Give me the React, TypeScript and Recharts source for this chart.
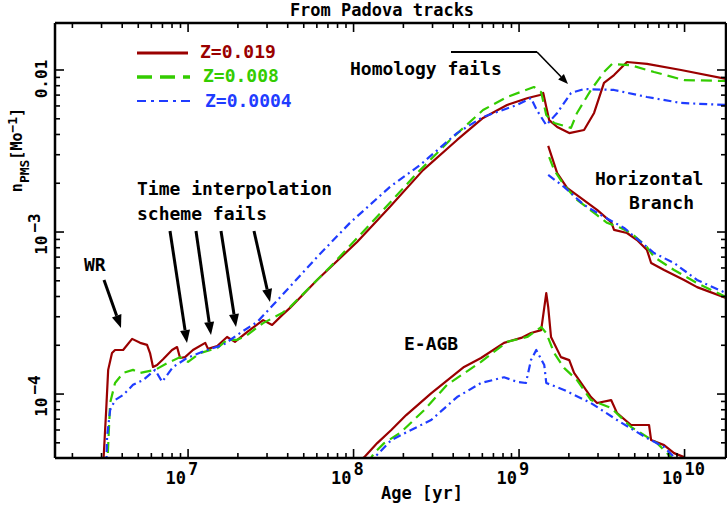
import React from "react";
import { LineChart, Line, XAxis, YAxis } from "recharts";

// [age (yr), n_PMS (1/Msun)]
const z019Main = [
  [3.06e6, 3.4e-5], [3.2e6, 7.96e-5], [3.29e6, 1.41e-4], [3.47e6, 1.79e-4], [3.62e6, 1.87e-4],
  [4.05e6, 1.87e-4], [4.59e6, 2.19e-4], [5.13e6, 2.07e-4], [5.65e6, 2.01e-4], [5.89e6, 1.79e-4],
  [6.14e6, 1.47e-4], [6.5e6, 1.51e-4], [7.06e6, 1.64e-4], [8.0e6, 1.87e-4], [8.58e6, 1.95e-4],
  [8.95e6, 1.67e-4], [9.59e6, 1.69e-4], [1.07e7, 1.87e-4], [1.27e7, 2.07e-4], [1.32e7, 1.9e-4],
  [1.5e7, 1.98e-4], [1.72e7, 2.25e-4], [1.92e7, 2.1e-4], [2.27e7, 2.41e-4], [2.84e7, 2.86e-4],
  [3.22e7, 2.67e-4], [3.7e7, 3.07e-4], [4.13e7, 3.4e-4], [6.02e7, 5.06e-4], [1.05e8, 8.68e-4],
  [1.66e8, 1.43e-3], [2.63e8, 2.41e-3], [4.22e8, 3.7e-3], [6.06e8, 5.06e-3], [8.46e8, 6.08e-3],
  [1.13e9, 6.72e-3], [1.34e9, 7.01e-3], [1.4e9, 7.21e-3], [1.46e9, 5.91e-3], [1.52e9, 4.91e-3],
  [1.7e9, 4.45e-3], [2.01e9, 4.08e-3], [2.47e9, 4.26e-3], [2.84e9, 5.43e-3], [3.26e9, 8.32e-3],
  [3.75e9, 9.31e-3], [4.49e9, 1.12e-2], [5.93e9, 1.09e-2], [9.52e9, 1.0e-2], [1.78e10, 8.8e-3],
];
const z008Main = [
  [3.24e6, 3.4e-5], [3.38e6, 8.8e-5], [3.62e6, 1.17e-4], [4.05e6, 1.35e-4], [4.65e6, 1.41e-4],
  [5.13e6, 1.35e-4], [5.5e6, 1.37e-4], [6.32e6, 1.41e-4], [7.47e6, 1.55e-4], [8.95e6, 1.69e-4],
  [1.0e7, 1.58e-4], [1.18e7, 1.79e-4], [1.5e7, 1.92e-4], [1.72e7, 2.16e-4], [1.98e7, 2.16e-4],
  [2.27e7, 2.31e-4], [2.84e7, 2.74e-4], [3.7e7, 3.16e-4], [4.13e7, 3.44e-4], [7.21e7, 6.08e-4],
  [1.21e8, 1.07e-3], [2.42e8, 2.31e-3], [3.83e8, 3.7e-3], [6.06e8, 5.66e-3], [8.46e8, 6.81e-3],
  [1.23e9, 7.85e-3], [1.36e9, 7.31e-3], [1.46e9, 5.27e-3], [1.63e9, 4.71e-3], [2.06e9, 4.39e-3],
  [2.24e9, 5.43e-3], [2.72e9, 7.53e-3], [3.26e9, 9.72e-3], [3.65e9, 1.09e-2], [4.75e9, 1.07e-2],
  [6.54e9, 9.72e-3], [9.93e9, 8.67e-3], [1.78e10, 8.55e-3],
];
const z0004Main = [
  [3.2e6, 3.4e-5], [3.24e6, 5.43e-5], [3.38e6, 7.96e-5], [3.62e6, 9.18e-5], [4.05e6, 9.86e-5],
  [4.65e6, 1.14e-4], [5.35e6, 1.22e-4], [6.32e6, 1.41e-4], [6.97e6, 1.19e-4], [8.12e6, 1.47e-4],
  [9.86e6, 1.67e-4], [1.3e7, 1.87e-4], [1.63e7, 2.01e-4], [2.06e7, 2.38e-4], [2.61e7, 2.78e-4],
  [3.26e7, 3.54e-4], [6.02e7, 7.01e-4], [9.52e7, 1.14e-3], [1.66e8, 1.9e-3], [2.52e8, 2.59e-3],
  [4.22e8, 4.08e-3], [6.06e8, 5.13e-3], [9.72e8, 6.08e-3], [1.18e9, 6.72e-3], [1.28e9, 5.66e-3],
  [1.46e9, 4.57e-3], [1.7e9, 5.43e-3], [2.06e9, 7.21e-3], [2.47e9, 7.63e-3], [3.75e9, 7.53e-3],
  [5.93e9, 6.81e-3], [9.52e9, 6.26e-3], [1.78e10, 6.08e-3],
];

const z019HB = [
  [1.5e9, 3.4e-3], [1.7e9, 2.31e-3], [1.95e9, 1.87e-3], [2.37e9, 1.62e-3], [2.96e9, 1.37e-3],
  [3.6e9, 1.15e-3], [3.75e9, 1.03e-3], [4.49e9, 9.86e-4], [5.16e9, 8.93e-4], [5.93e9, 7.74e-4],
  [6.28e9, 6.44e-4], [7.52e9, 5.83e-4], [9.93e9, 5.06e-4], [1.19e10, 4.57e-4], [1.78e10, 3.92e-4],
];
const z008HB = [
  [1.52e9, 2.9e-3], [1.63e9, 2.41e-3], [1.87e9, 1.95e-3], [2.24e9, 1.58e-3], [2.96e9, 1.27e-3],
  [3.4e9, 1.14e-3], [4.13e9, 1.06e-3], [4.75e9, 9.86e-4], [5.93e9, 8.08e-4], [6.54e9, 7.01e-4],
  [8.64e9, 5.83e-4], [1.19e10, 4.84e-4], [1.78e10, 3.97e-4],
];
const z0004HB = [
  [1.5e9, 2.25e-3], [1.87e9, 1.9e-3], [2.47e9, 1.47e-3], [3.26e9, 1.24e-3], [4.31e9, 1.06e-3],
  [5.93e9, 8.08e-4], [6.54e9, 7.42e-4], [8.64e9, 6.44e-4], [1.19e10, 5.06e-4], [1.78e10, 4.2e-4],
];

const z019EAGB = [
  [1.05e8, 3.7e-5], [1.16e8, 4.08e-5], [1.39e8, 4.98e-5], [1.69e8, 6.0e-5], [2.08e8, 7.42e-5],
  [2.94e8, 1.01e-4], [4.65e8, 1.47e-4], [5.89e8, 1.67e-4], [8.11e8, 2.07e-4], [1.03e9, 2.22e-4],
  [1.18e9, 2.38e-4], [1.36e9, 2.48e-4], [1.46e9, 4.2e-4], [1.5e9, 3.44e-4], [1.56e9, 2.25e-4],
  [1.79e9, 1.69e-4], [2.01e9, 1.62e-4], [2.15e9, 1.35e-4], [2.72e9, 9.58e-5], [2.96e9, 8.8e-5],
  [3.6e9, 9.18e-5], [3.91e9, 7.63e-5], [4.75e9, 6.44e-5], [6.1e9, 6.44e-5], [6.28e9, 5.2e-5],
  [7.52e9, 4.84e-5], [8.64e9, 4.32e-5], [9.93e9, 4.08e-5], [1.0e10, 3.4e-5],
];
const z008EAGB = [
  [1.21e8, 3.7e-5], [1.33e8, 4.32e-5], [1.53e8, 4.98e-5], [1.94e8, 5.83e-5], [2.67e8, 7.96e-5],
  [3.67e8, 1.14e-4], [5.89e8, 1.58e-4], [8.46e8, 2.1e-4], [1.12e9, 2.25e-4], [1.36e9, 2.59e-4],
  [1.46e9, 2.38e-4], [1.63e9, 1.79e-4], [1.87e9, 1.45e-4], [2.24e9, 1.22e-4], [2.72e9, 9.18e-5],
  [3.6e9, 8.2e-5], [4.75e9, 6.26e-5], [6.82e9, 4.98e-5], [8.28e9, 4.08e-5], [8.64e9, 3.4e-5],
];
const z0004EAGB = [
  [1.27e8, 3.6e-5], [1.33e8, 4.03e-5], [1.69e8, 5.2e-5], [2.1e8, 5.83e-5], [2.94e8, 6.91e-5],
  [4.22e8, 9.58e-5], [5.89e8, 1.17e-4], [8.11e8, 1.27e-4], [9.72e8, 1.19e-4], [1.1e9, 1.17e-4],
  [1.18e9, 1.62e-4], [1.27e9, 1.87e-4], [1.42e9, 1.51e-4], [1.46e9, 1.17e-4], [1.87e9, 1.06e-4],
  [2.72e9, 8.8e-5], [3.91e9, 6.91e-5], [5.93e9, 5.35e-5], [7.52e9, 4.71e-5], [8.64e9, 4.08e-5],
  [8.9e9, 3.5e-5],
];

const seriesNames = ["Z=0.019", "Z=0.008", "Z=0.0004"];
const xMajor = [1e7, 1e8, 1e9, 1e10];
const xMajorExp = ["7", "8", "9", "10"];
const yMajor = [1e-4, 1e-3, 1e-2];
const yMajorLabels = ["10^\u22124", "10^\u22123", "0.01"];

const X_DOMAIN = [1.57e6, 1.78e10];
const Y_DOMAIN = [4.03e-5, 1.95e-2];

const RED = "#9a0000";
const GREEN = "#33cc00";
const BLUE = "#1f3cff";
const FONT = "'DejaVu Sans Mono', monospace";

const styles = [
  { color: RED, dash: undefined, width: 2.2 },
  { color: GREEN, dash: "11 6", width: 2.2 },
  { color: BLUE, dash: "8 4 2 4", width: 2.2 },
];

const toPts = (arr) => arr.map(([age, n]) => ({ age, n }));

const groups = [
  [z019Main, z019HB, z019EAGB],
  [z008Main, z008HB, z008EAGB],
  [z0004Main, z0004HB, z0004EAGB],
];

function logTicks(lo, hi) {
  const out = [];
  for (let d = Math.floor(Math.log10(lo)); d <= Math.ceil(Math.log10(hi)); d++) {
    for (let m = 1; m <= 9; m++) {
      const v = Number((m * Math.pow(10, d)).toPrecision(6));
      if (v >= lo && v <= hi) out.push(v);
    }
  }
  return out;
}
const xTicks = logTicks(X_DOMAIN[0], X_DOMAIN[1]);
const yTicks = logTicks(Y_DOMAIN[0], Y_DOMAIN[1]);

const isMajor = (v) => Math.abs(Math.log10(v) - Math.round(Math.log10(v))) < 1e-9;

function BottomTick({ x, y, payload }) {
  const v = payload.value;
  const major = isMajor(v);
  const i = xMajor.findIndex((m) => Math.abs(m - v) / m < 1e-6);
  return (
    <g>
      <line x1={x} x2={x} y1={y} y2={y - (major ? 9 : 5)} stroke="#000" strokeWidth={1.6} />
      {i >= 0 && (
        <text fontFamily={FONT} fontSize={17} fontWeight="bold" fill="#000">
          <tspan x={x - 2} y={y + 26} textAnchor="end">10</tspan>
          <tspan x={x} y={y + 17}>{xMajorExp[i]}</tspan>
        </text>
      )}
    </g>
  );
}

function TopTick({ x, y, payload }) {
  const major = isMajor(payload.value);
  return <line x1={x} x2={x} y1={y} y2={y + (major ? 9 : 5)} stroke="#000" strokeWidth={1.6} />;
}

function LeftTick({ x, y, payload }) {
  const v = payload.value;
  const major = isMajor(v);
  const i = yMajor.findIndex((m) => Math.abs(m - v) / m < 1e-6);
  let label = null;
  if (i >= 0) {
    const parts = yMajorLabels[i].split("^");
    const off = parts.length === 1 ? 9 : 2;
    label = (
      <g transform={`translate(${x - 8},${y + off}) rotate(-90)`}>
        <text x={0} y={0} textAnchor="middle" fontFamily={FONT} fontSize={16} fontWeight="bold" fill="#000">
          {parts[0]}
          {parts[1] && <tspan dx={3} dy={-7}>{parts[1]}</tspan>}
        </text>
      </g>
    );
  }
  return (
    <g>
      <line x1={x} x2={x + (major ? 9 : 5)} y1={y} y2={y} stroke="#000" strokeWidth={1.6} />
      {label}
    </g>
  );
}

function RightTick({ x, y, payload }) {
  const major = isMajor(payload.value);
  return <line x1={x} x2={x - (major ? 9 : 5)} y1={y} y2={y} stroke="#000" strokeWidth={1.6} />;
}

function Arrow({ x1, y1, x2, y2, w = 3, head = 13, hw = 5 }) {
  const a = Math.atan2(y2 - y1, x2 - x1);
  const bx = x2 - head * Math.cos(a);
  const by = y2 - head * Math.sin(a);
  const px = -Math.sin(a) * hw;
  const py = Math.cos(a) * hw;
  return (
    <g>
      <line x1={x1} y1={y1} x2={bx} y2={by} stroke="#000" strokeWidth={w} />
      <polygon points={`${x2},${y2} ${bx + px},${by + py} ${bx - px},${by - py}`} fill="#000" />
    </g>
  );
}

const textStyle = { fontFamily: FONT, fontSize: 18, fontWeight: "bold", fill: "#000" };

export default function App() {
  return (
    <div style={{ position: "absolute", left: 0, top: 0, width: 727, height: 506, background: "#fff" }}>
      <LineChart width={727} height={506} margin={{ top: 0, right: 0, bottom: 0, left: 0 }}>
        <XAxis
          xAxisId="b" orientation="bottom" type="number" dataKey="age" scale="log"
          domain={X_DOMAIN} allowDataOverflow ticks={xTicks} interval={0} height={48}
          tickSize={0} tickMargin={0} tickLine={false}
          axisLine={{ stroke: "#000", strokeWidth: 2.5 }} tick={<BottomTick />}
        />
        <XAxis
          xAxisId="t" orientation="top" type="number" dataKey="age" scale="log"
          domain={X_DOMAIN} allowDataOverflow ticks={xTicks} interval={0} height={23}
          tickSize={0} tickMargin={0} tickLine={false}
          axisLine={{ stroke: "#000", strokeWidth: 2.5 }} tick={<TopTick />}
        />
        <YAxis
          yAxisId="l" orientation="left" type="number" scale="log"
          domain={Y_DOMAIN} allowDataOverflow ticks={yTicks} interval={0} width={55}
          tickSize={0} tickMargin={0} tickLine={false}
          axisLine={{ stroke: "#000", strokeWidth: 2.5 }} tick={<LeftTick />}
        />
        <YAxis
          yAxisId="r" orientation="right" type="number" scale="log"
          domain={Y_DOMAIN} allowDataOverflow ticks={yTicks} interval={0} width={1}
          tickSize={0} tickMargin={0} tickLine={false}
          axisLine={{ stroke: "#000", strokeWidth: 2.5 }} tick={<RightTick />}
        />
        {groups.map((g, gi) =>
          g.map((arr, bi) => (
            <Line
              key={`${gi}-${bi}`}
              xAxisId="b" yAxisId="l"
              data={toPts(arr)} dataKey="n" type="linear" dot={false}
              stroke={styles[gi].color} strokeWidth={styles[gi].width}
              strokeDasharray={styles[gi].dash} strokeLinejoin="round"
              isAnimationActive={false}
            />
          ))
        )}

        {/* title and axis labels */}
        <text x={382} y={16} textAnchor="middle" {...textStyle} fontSize={17}>From Padova tracks</text>
        <text x={422} y={499} textAnchor="middle" {...textStyle} fontSize={17}>Age [yr]</text>
        <g transform="translate(22,150) rotate(-90)">
          <text x={0} y={0} textAnchor="middle" fontFamily={FONT} fontSize={15} fontWeight="bold" fill="#000">
            n<tspan dy={7} fontSize={13}>PMS</tspan>
            <tspan dy={-7}>[Mo</tspan>
            <tspan dy={-5} fontSize={13}>{"\u22121"}</tspan>
            <tspan dy={5}>]</tspan>
          </text>
        </g>

        {/* legend */}
        <line x1={137} x2={188} y1={53} y2={53} stroke={RED} strokeWidth={3} />
        <line x1={137} x2={190} y1={77} y2={77} stroke={GREEN} strokeWidth={3.5} strokeDasharray="15 8" />
        <line x1={137} x2={190} y1={101} y2={101} stroke={BLUE} strokeWidth={2.2} strokeDasharray="9 5 3 5" />
        <text x={200} y={58} {...textStyle} fill={RED}>{seriesNames[0]}</text>
        <text x={203} y={82} {...textStyle} fill={GREEN}>{seriesNames[1]}</text>
        <text x={205} y={107} {...textStyle} fill={BLUE}>{seriesNames[2]}</text>

        {/* annotations */}
        <text x={350} y={75} {...textStyle}>Homology fails</text>
        <line x1={451} x2={537} y1={52} y2={52} stroke="#000" strokeWidth={2} />
        <Arrow x1={537} y1={52} x2={568} y2={84} w={1.6} head={10} hw={4} />

        <text x={137} y={195} {...textStyle}>Time interpolation</text>
        <text x={137} y={220} {...textStyle}>scheme fails</text>
        <Arrow x1={170} y1={231} x2={187} y2={343} />
        <Arrow x1={196} y1={231} x2={211} y2={335} />
        <Arrow x1={221} y1={231} x2={236} y2={327} />
        <Arrow x1={254} y1={231} x2={270} y2={302} />

        <text x={84} y={271} {...textStyle}>WR</text>
        <Arrow x1={104} y1={280} x2={121} y2={328} />

        <text x={595} y={185} {...textStyle}>Horizontal</text>
        <text x={629} y={209} {...textStyle}>Branch</text>
        <text x={404} y={350} {...textStyle}>E-AGB</text>
      </LineChart>
    </div>
  );
}
